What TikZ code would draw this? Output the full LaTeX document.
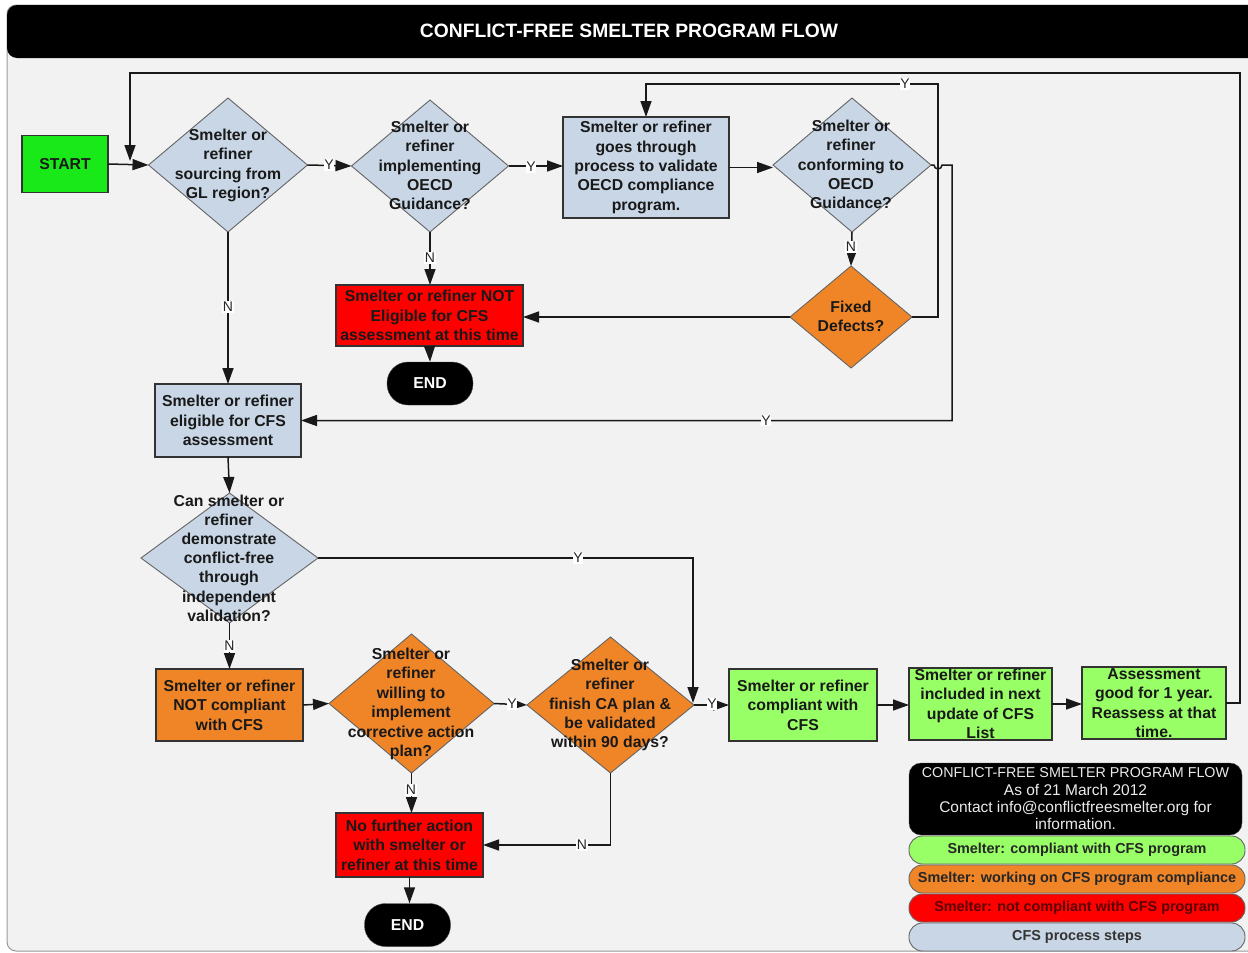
\documentclass[tikz,border=0pt]{standalone}
\usepackage{fontspec}
\usepackage{graphicx}
\setmainfont{Liberation Sans}
\usetikzlibrary{shapes.geometric,arrows.meta}
\definecolor{bgc}{RGB}{242,242,242}
\definecolor{cblue}{RGB}{200,214,229}
\definecolor{corange}{RGB}{240,133,40}
\definecolor{cred}{RGB}{255,0,0}
\definecolor{cgreen}{RGB}{25,232,25}
\definecolor{clgreen}{RGB}{153,255,102}
\definecolor{cline}{RGB}{25,25,25}
\definecolor{cdia}{RGB}{100,100,100}
\definecolor{cdred}{RGB}{90,0,0}
\newcommand\boxfont{\fontsize{15.8}{19.4}\selectfont\bfseries}
\newcommand\lblfont{\fontsize{14}{14}\selectfont}
\newcommand\legfont{\fontsize{15.5}{17.3}\selectfont}
\newcommand\pillfont{\fontsize{14.4}{16}\selectfont\bfseries}
\tikzset{
  txt/.style={font=\boxfont, align=center, text=black!90, inner sep=0pt},
  dia/.style={diamond, draw=cdia, line width=0.9pt, inner sep=0pt, outer sep=0pt},
  boxstep/.style={rectangle, draw=black!80, line width=1.1pt, inner sep=0pt, outer sep=0pt, font=\boxfont, align=center, text=black!90},
  endbox/.style={rectangle, fill=black, draw=black!70, rounded corners=21pt, minimum width=86pt, minimum height=43pt, font=\boxfont, text=white},
  arr/.style={draw=cline, line width=1.5pt, -{Triangle[length=16pt,width=11pt]}},
  lbl/.style={fill=white, inner sep=0.8pt, font=\lblfont, text=black!85},
  pill/.style={rectangle, draw=black!60, line width=0.9pt, rounded corners=13.5pt, minimum width=336pt, minimum height=28pt, font=\pillfont, inner sep=0pt}
}
\begin{document}
\begin{tikzpicture}[x=1pt,y=-1pt]
\fill[white] (0,0) rectangle (1248,953);
\useasboundingbox (0,0) rectangle (1248,953);
% frame and header
\draw[draw=gray!80, line width=1pt, fill=bgc, rounded corners=9pt] (7,5) rectangle (1262,951);
\fill[black, rounded corners=10pt] (7,5) rectangle (1262,58);
\node[text=white, font=\bfseries, inner sep=0pt] (title) at (629,31) {\resizebox{418pt}{13.5pt}{CONFLICT-FREE SMELTER PROGRAM FLOW}};

% nodes
\node[boxstep, fill=cgreen, minimum width=86pt, minimum height=57pt] (start) at (65,164) {START};

\node[dia, fill=cblue, minimum width=159pt, minimum height=134pt] (d1) at (228,165) {};
\node[txt] (t1) at (228,165.5) {Smelter or\\refiner\\sourcing from\\GL region?};

\node[dia, fill=cblue, minimum width=157pt, minimum height=132pt] (d2) at (430,166) {};
\node[txt] (t2) at (430,165.5) {Smelter or\\refiner\\implementing\\OECD\\Guidance?};

\node[boxstep, fill=cblue, minimum width=166pt, minimum height=101pt] (b1) at (646,167.5) {Smelter or refiner\\goes through\\process to validate\\OECD compliance\\program.};

\node[dia, fill=cblue, minimum width=158pt, minimum height=134pt] (d3) at (852,165) {};
\node[txt] (t3) at (851,164.5) {Smelter or\\refiner\\conforming to\\OECD\\Guidance?};

\node[dia, fill=corange, minimum width=122pt, minimum height=102pt] (d4) at (851,317) {};
\node[txt] (t4) at (851,316.5) {Fixed\\Defects?};

\node[boxstep, fill=cred, minimum width=187pt, minimum height=61pt] (r1) at (429.5,315.5) {Smelter or refiner NOT\\Eligible for CFS\\assessment at this time};

\node[endbox] (end1) at (430,383.5) {END};

\node[boxstep, fill=cblue, minimum width=146pt, minimum height=73pt] (b2) at (228,420.5) {Smelter or refiner\\eligible for CFS\\assessment};

\node[dia, fill=cblue, minimum width=177pt, minimum height=130pt] (d5) at (229.5,558) {};
\node[txt, font=\fontsize{15.8}{19.2}\selectfont\bfseries] (t5) at (229,558) {Can smelter or\\refiner\\demonstrate\\conflict-free\\through\\independent\\validation?};

\node[boxstep, fill=corange, minimum width=147pt, minimum height=72pt] (o1) at (229.5,705) {Smelter or refiner\\NOT compliant\\with CFS};

\node[dia, fill=corange, minimum width=165pt, minimum height=139pt] (d6) at (411.5,703.5) {};
\node[txt] (t6) at (411,704) {Smelter or\\refiner\\willing to\\implement\\corrective action\\plan?};

\node[dia, fill=corange, minimum width=167pt, minimum height=136pt] (d7) at (610.5,705) {};
\node[txt] (t7) at (610,705) {Smelter or\\refiner\\finish CA plan \&\\be validated\\within 90 days?};

\node[boxstep, fill=clgreen, minimum width=148pt, minimum height=72pt] (g1) at (803,705) {Smelter or refiner\\compliant with\\CFS};
\node[boxstep, fill=clgreen, minimum width=143pt, minimum height=72pt] (g2) at (980.5,704) {Smelter or refiner\\included in next\\update of CFS\\List};
\node[boxstep, fill=clgreen, minimum width=144pt, minimum height=72pt] (g3) at (1154,703) {Assessment\\good for 1 year.\\Reassess at that\\time.};

\node[boxstep, fill=cred, minimum width=147pt, minimum height=64pt] (r2) at (409.5,845) {No further action\\with smelter or\\refiner at this time};

\node[endbox] (end2) at (407.5,925) {END};

% coordinates
\coordinate (loopend) at (130,161);
\coordinate (cj) at (693,703);

% connectors
\draw[arr] (start.east) -- (d1.west);
\draw[arr] (g3.east) -- (1240,703) -- (1240,73) -- (130,73) -- (loopend);
\draw[arr] (d1.east) -- (d2.west);
\draw[arr] (d2.east) -- (d2.east -| b1.west);
\draw[arr] (b1.east) -- (b1.east -| d3.west);
\draw[arr] (d3.south) -- (d4.north);
\draw[arr] (d4.west) -- (d4.west -| r1.east);
\draw[arr] (d4.east) -- (938,317) -- (938,84) -| (b1.north);
\draw[arr] (d3.east) -- (934,165) arc[start angle=180, end angle=360, radius=4pt] -- (952,165) -- (952,420.5) -- (b2.east);
\draw[arr] (d2.south) -- (d2.south |- r1.north);
\draw[arr] (r1.south) -- (end1.north);
\draw[arr] (d1.south) -- (b2.north);
\draw[arr] (b2.south) -- (d5.north);
\draw[arr] (d5.south) -- (d5.south |- o1.north);
\draw[arr] (d5.east) -- (693,558) -- (cj);
\draw[arr] (o1.east) -- (d6.west);
\draw[arr] (d6.east) -- (d7.west);
\draw[arr] (d7.east) -- (g1.west);
\draw[arr] (d6.south) -- (d6.south |- r2.north);
\draw[arr] (d7.south) |- (r2.east);
\draw[arr] (r2.south) -- (r2.south |- end2.north);
\draw[arr] (g1.east) -- (g1.east -| g2.west);
\draw[arr] (g2.east) -- (g2.east -| g3.west);

% connector labels
\node[lbl] (l1) at (329,165) {Y};
\node[lbl] (l2) at (531,167) {Y};
\node[lbl] (l3) at (851,247) {N};
\node[lbl] (l4) at (905,84) {Y};
\node[lbl] (l5) at (766,420.5) {Y};
\node[lbl] (l6) at (430,258) {N};
\node[lbl] (l7) at (228,307) {N};
\node[lbl] (l8) at (578,558) {Y};
\node[lbl] (l9) at (229.5,646) {N};
\node[lbl] (l10) at (512,704) {Y};
\node[lbl] (l11) at (712,704) {Y};
\node[lbl] (l12) at (411,790) {N};
\node[lbl] (l13) at (582,845) {N};

% legend
\node[fill=black, draw=black!70, rounded corners=12pt, minimum width=333pt, minimum height=72pt, text=white!92!black, align=center, font=\legfont, inner sep=0pt] (legk) at (1075.5,799) {{\fontsize{14.3}{17.3}\selectfont CONFLICT-FREE SMELTER PROGRAM FLOW}\\As of 21 March 2012\\Contact info@conflictfreesmelter.org for\\information.};
\node[pill, fill=clgreen, text=black!85] (legg) at (1077,850) {Smelter: compliant with CFS program};
\node[pill, fill=corange, text=black!85] (lego) at (1077,879) {Smelter: working on CFS program compliance};
\node[pill, fill=cred, text=cdred] (legr) at (1077,908) {Smelter: not compliant with CFS program};
\node[pill, fill=cblue, text=black!80] (legb) at (1077,937) {CFS process steps};
\end{tikzpicture}
\end{document}
